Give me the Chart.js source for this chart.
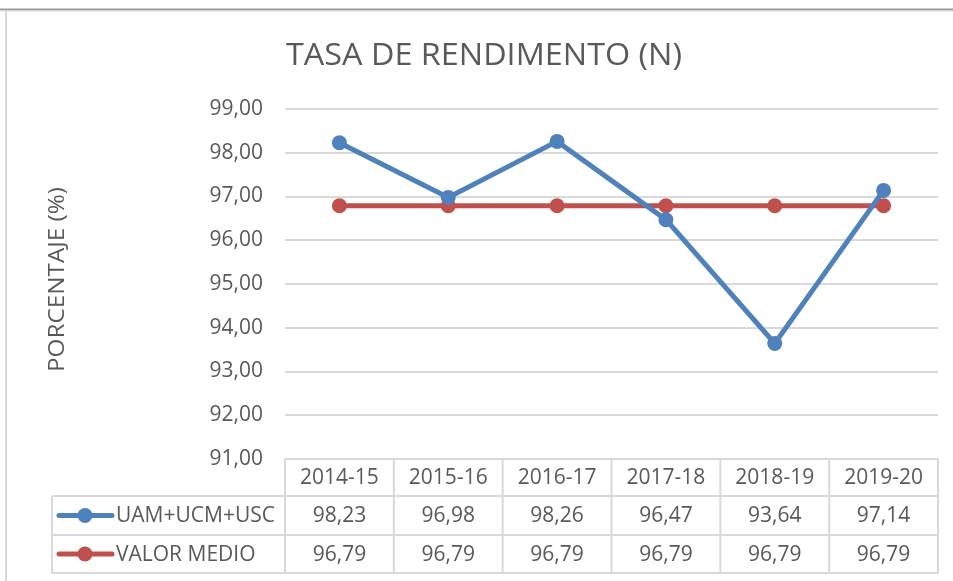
<!DOCTYPE html>
<html><head><meta charset="utf-8">
<script src="https://cdn.jsdelivr.net/npm/chart.js@4.4.1/dist/chart.umd.min.js"></script>
<style>html,body{margin:0;padding:0;background:#fff;overflow:hidden}#wrap{width:953px;height:581px}</style>
</head><body><div id="wrap"><canvas id="c" width="953" height="581"></canvas></div>
<script>
// ---- data ----
const categories = ['2014-15', '2015-16', '2016-17', '2017-18', '2018-19', '2019-20'];
const seriesNames = ['UAM+UCM+USC', 'VALOR MEDIO'];
const uamValues = [98.23, 96.98, 98.26, 96.47, 93.64, 97.14];
const mediaValues = [96.79, 96.79, 96.79, 96.79, 96.79, 96.79];
const yMin = 91, yMax = 99, yStep = 1;
const chartTitle = 'TASA DE RENDIMENTO (N)';
const yAxisTitle = 'PORCENTAJE (%)';

// ---- styles ----
const BLUE = '#4f81bd', RED = '#c0504d', TEXT = '#595959', GRID = '#d9d9d9';
const FONT = '"Open Sans", "Liberation Sans", sans-serif';
const fmt = v => v.toFixed(2).replace('.', ',');

function fitText(ctx, text, x, y, width, rotate) {
  const w = ctx.measureText(text).width;
  ctx.save(); ctx.translate(x, y);
  if (rotate) ctx.rotate(-Math.PI / 2);
  ctx.scale(width / w, 1);
  ctx.fillText(text, 0, 0);
  ctx.restore();
}

const decor = {
  id: 'decor',
  beforeDraw(chart) {
    const ctx = chart.ctx;
    ctx.save();
    ctx.strokeStyle = '#9a9a9a'; ctx.lineWidth = 2;
    ctx.beginPath(); ctx.moveTo(0, 9.5); ctx.lineTo(953, 9.5); ctx.stroke();
    ctx.strokeStyle = '#dcdcdc'; ctx.lineWidth = 1;
    ctx.beginPath(); ctx.moveTo(0, 11); ctx.lineTo(953, 11); ctx.stroke();
    ctx.strokeStyle = '#d9d9d9'; ctx.lineWidth = 2;
    ctx.beginPath(); ctx.moveTo(6, 10); ctx.lineTo(6, 581); ctx.stroke();
    ctx.restore();
  },
  afterDraw(chart) {
    const ctx = chart.ctx, x = chart.scales.x, a = chart.chartArea;
    const n = categories.length;
    const bw = (a.right - a.left) / n;
    const tableLeft = 52, rowTops = [a.bottom, 496, 535, 573];
    ctx.save();
    // title
    ctx.fillStyle = TEXT;
    ctx.font = '31px ' + FONT;
    ctx.textAlign = 'left'; ctx.textBaseline = 'middle';
    fitText(ctx, chartTitle, 286, 56, 396, false);
    // y axis title
    ctx.font = '22px ' + FONT; ctx.textAlign = 'left';
    fitText(ctx, yAxisTitle, 58, 372, 185, true);
    // table grid
    ctx.strokeStyle = GRID; ctx.lineWidth = 2;
    ctx.beginPath();
    ctx.moveTo(a.left, rowTops[0]); ctx.lineTo(a.right, rowTops[0]);
    for (let r = 1; r < 4; r++) { ctx.moveTo(tableLeft, rowTops[r]); ctx.lineTo(a.right, rowTops[r]); }
    ctx.moveTo(tableLeft, rowTops[1]); ctx.lineTo(tableLeft, rowTops[3]);
    for (let i = 0; i <= n; i++) {
      const px = a.left + i * bw;
      ctx.moveTo(px, rowTops[0]); ctx.lineTo(px, rowTops[3]);
    }
    ctx.stroke();
    // table text
    ctx.fillStyle = TEXT; ctx.font = '21px ' + FONT; ctx.textAlign = 'center'; ctx.textBaseline = 'middle';
    const rowsData = [uamValues, mediaValues];
    categories.forEach((c, i) => {
      const cx = x.getPixelForValue(i);
      ctx.fillText(c, cx, (rowTops[0] + rowTops[1]) / 2 + 1);
      rowsData.forEach((arr, r) => {
        ctx.fillText(fmt(arr[i]), cx, (rowTops[r + 1] + rowTops[r + 2]) / 2 + 1);
      });
    });
    // legend keys
    const colors = [BLUE, RED];
    seriesNames.forEach((name, r) => {
      const cy = (rowTops[r + 1] + rowTops[r + 2]) / 2;
      ctx.strokeStyle = colors[r]; ctx.lineWidth = 5; ctx.lineCap = 'round';
      ctx.beginPath(); ctx.moveTo(59, cy); ctx.lineTo(112, cy); ctx.stroke();
      ctx.fillStyle = colors[r];
      ctx.beginPath(); ctx.arc(85, cy, 7.5, 0, Math.PI * 2); ctx.fill();
      ctx.fillStyle = TEXT; ctx.textAlign = 'left';
      ctx.fillText(name, 116, cy + 1);
    });
    ctx.restore();
  }
};

new Chart(document.getElementById('c'), {
  type: 'line',
  data: {
    labels: categories,
    datasets: [
      { label: seriesNames[0], data: uamValues, borderColor: BLUE, backgroundColor: BLUE, borderWidth: 5,
        pointRadius: 7.5, pointHoverRadius: 7.5, pointBorderWidth: 0, tension: 0 },
      { label: seriesNames[1], data: mediaValues, borderColor: RED, backgroundColor: RED, borderWidth: 5,
        pointRadius: 7.5, pointHoverRadius: 7.5, pointBorderWidth: 0, tension: 0 }
    ]
  },
  options: {
    responsive: false, animation: false, devicePixelRatio: 1,
    layout: { padding: { left: 0, top: 109, right: 15, bottom: 122 } },
    plugins: { legend: { display: false }, title: { display: false }, tooltip: { enabled: false } },
    scales: {
      x: { display: false, offset: true },
      y: {
        min: yMin, max: yMax,
        afterFit: s => { s.width = 285; },
        grid: { color: GRID, lineWidth: 2, drawTicks: false },
        border: { display: false },
        ticks: { stepSize: yStep, padding: 22, color: TEXT, font: { family: FONT, size: 21 }, callback: v => fmt(v) }
      }
    }
  },
  plugins: [decor]
});
</script>
</body></html>
